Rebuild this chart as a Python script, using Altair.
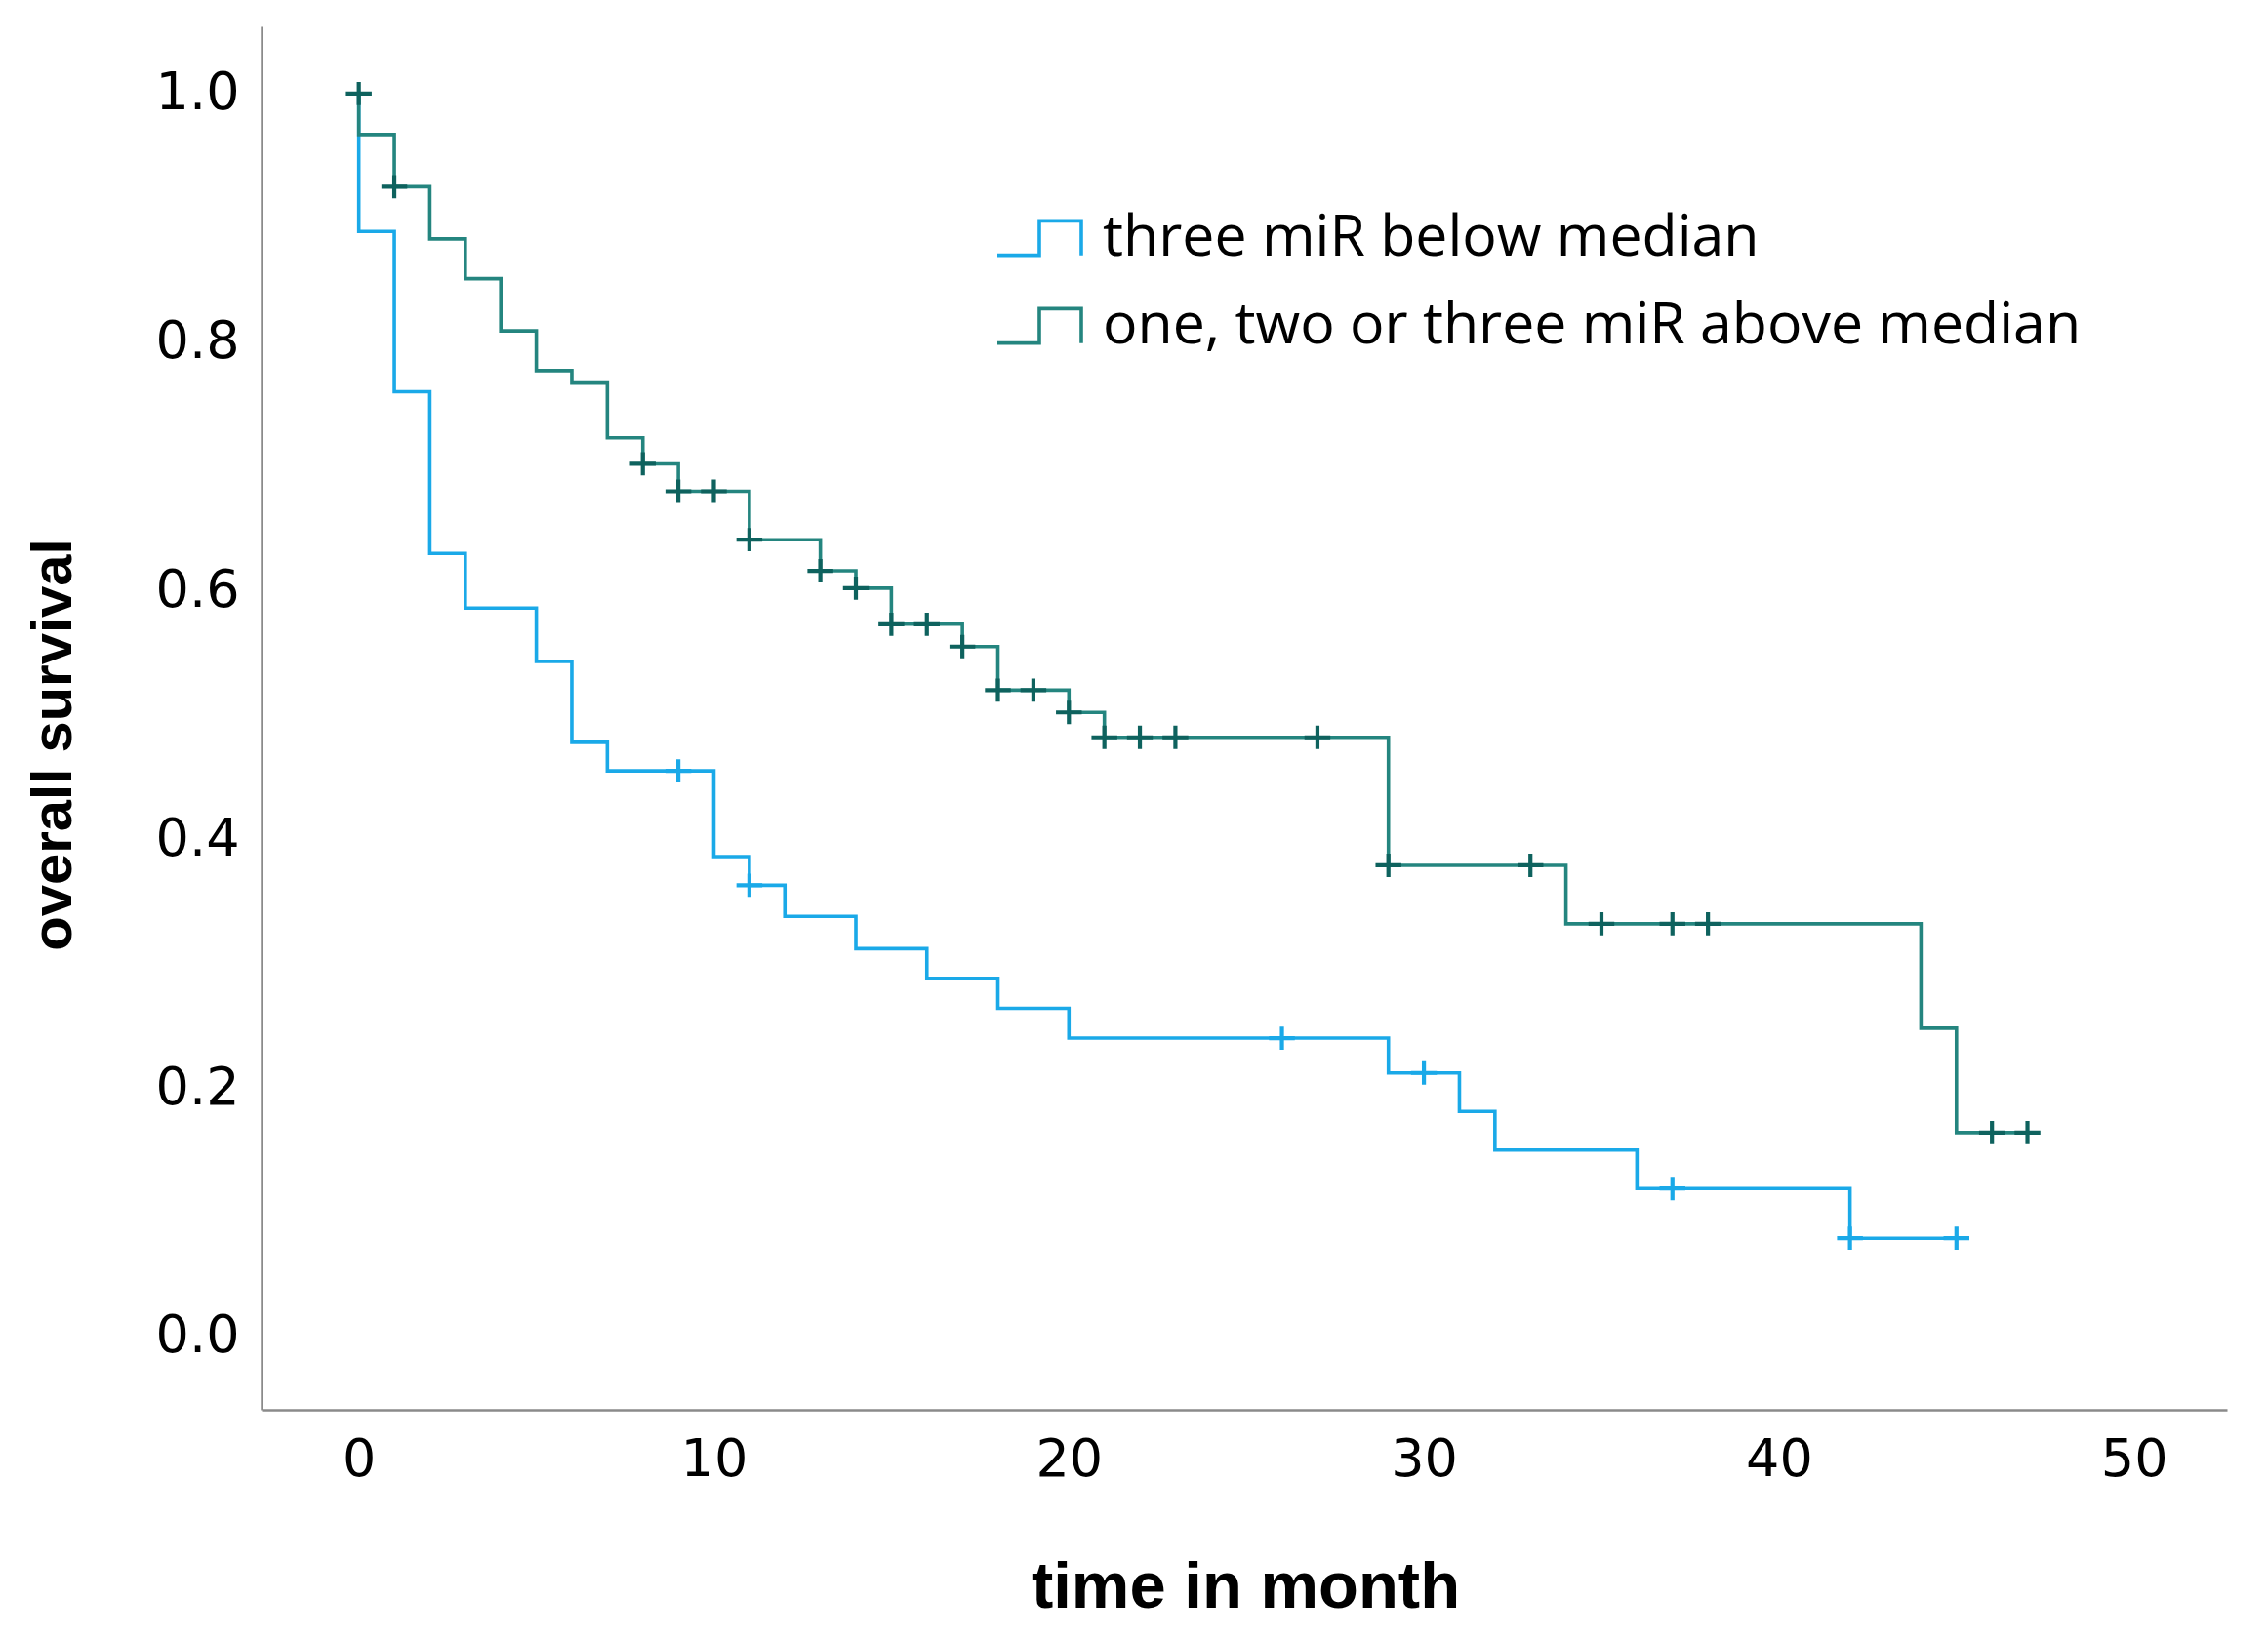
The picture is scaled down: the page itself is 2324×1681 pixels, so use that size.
import altair as alt
import pandas as pd

BLUE_LABEL = "three miR below median"
TEAL_LABEL = "one, two or three miR above median"
BLUE = "#1aa9e8"
TEAL = "#24857f"
TEAL_DARK = "#0e625e"

# Kaplan-Meier steps (time in month, survival after step)
blue_t = [0, 0, 1, 2, 3, 5, 6, 7, 10, 11, 12, 14, 16, 18, 20, 29, 31, 32, 36, 42, 45]
blue_s = [1.0, 0.889, 0.760, 0.630, 0.586, 0.543, 0.478, 0.455, 0.386, 0.363, 0.338,
          0.312, 0.288, 0.264, 0.240, 0.212, 0.181, 0.150, 0.119, 0.079, 0.079]
teal_t = [0, 0, 1, 2, 3, 4, 5, 6, 7, 8, 9, 11, 13, 14, 15, 17, 18, 20, 21, 29, 34, 44, 45, 47]
teal_s = [1.0, 0.967, 0.925, 0.883, 0.851, 0.809, 0.777, 0.767, 0.723, 0.702, 0.680,
          0.641, 0.616, 0.602, 0.573, 0.555, 0.520, 0.502, 0.482, 0.379, 0.332, 0.248,
          0.164, 0.164]

# censored observations
blue_ct = [9, 11, 26, 30, 37, 42, 45]
blue_cs = [0.455, 0.363, 0.240, 0.212, 0.119, 0.079, 0.079]
teal_ct = [0, 1, 8, 9, 10, 11, 13, 14, 15, 16, 17, 18, 19, 20, 21, 22, 23, 27, 29, 33,
           35, 37, 38, 46, 47]
teal_cs = [1.0, 0.925, 0.702, 0.680, 0.680, 0.641, 0.616, 0.602, 0.573, 0.573, 0.555,
           0.520, 0.520, 0.502, 0.482, 0.482, 0.482, 0.482, 0.379, 0.379, 0.332, 0.332,
           0.332, 0.164, 0.164]

x_ticks = [0, 10, 20, 30, 40, 50]
y_ticks = [0.0, 0.2, 0.4, 0.6, 0.8, 1.0]

rows = []
for i, (t, s) in enumerate(zip(blue_t, blue_s)):
    rows.append({"group": BLUE_LABEL, "t": t, "s": s, "idx": i})
for i, (t, s) in enumerate(zip(teal_t, teal_s)):
    rows.append({"group": TEAL_LABEL, "t": t, "s": s, "idx": i})
lines_df = pd.DataFrame(rows)

crows = []
for t, s in zip(blue_ct, blue_cs):
    crows.append({"cgroup": BLUE_LABEL, "t": t, "s": s})
for t, s in zip(teal_ct, teal_cs):
    crows.append({"cgroup": TEAL_LABEL, "t": t, "s": s})
cens_df = pd.DataFrame(crows)

PLUS = "M-1,0L1,0M0,-0.9L0,0.9"
LEG_SYM = "M-1,0.41L0,0.41L0,-0.41L1,-0.41L1,0.41"

x_enc = alt.X("t:Q", scale=alt.Scale(domain=[-2.74, 52.62], nice=False, zero=False),
              axis=alt.Axis(values=x_ticks, title="time in month", format="d",
                            titleX=1008, titleY=182, titleAlign="center",
                            titleBaseline="middle", titleFontSize=67,
                            labelPadding=24))
y_enc = alt.Y("s:Q", scale=alt.Scale(domain=[-0.059, 1.054], nice=False, zero=False),
              axis=alt.Axis(values=y_ticks, title="overall survival", format=".1f",
                            titleX=-213, titleY=736, titleAlign="center",
                            titleBaseline="middle", titleAngle=-90, titleFontSize=58,
                            labelPadding=23))

line = alt.Chart(lines_df).mark_line(interpolate="step-after", strokeWidth=3.6).encode(
    x=x_enc,
    y=y_enc,
    color=alt.Color("group:N",
                    scale=alt.Scale(domain=[BLUE_LABEL, TEAL_LABEL], range=[BLUE, TEAL]),
                    legend=alt.Legend(title=None, orient="none", legendX=752, legendY=172,
                                      symbolType=LEG_SYM, symbolSize=7396,
                                      symbolStrokeWidth=3.6, symbolFillColor="transparent",
                                      labelFont="Open Sans", labelFontSize=59,
                                      labelFontWeight=500,
                                      labelColor="black", labelOffset=20, rowPadding=15,
                                      labelLimit=0, padding=0)),
    order="idx:Q",
)

cens = alt.Chart(cens_df).mark_point(shape=PLUS, size=700, filled=False, strokeWidth=4.2,
                                     opacity=1).encode(
    x="t:Q",
    y="s:Q",
    color=alt.Color("cgroup:N",
                    scale=alt.Scale(domain=[BLUE_LABEL, TEAL_LABEL], range=[BLUE, TEAL_DARK]),
                    legend=None),
)

chart = (
    alt.layer(line, cens)
    .resolve_scale(color="independent")
    .properties(width=2014, height=1418,
                autosize=alt.AutoSizeParams(type="none"),
                padding={"left": 260, "top": 19, "right": 30, "bottom": 220})
    .configure_view(stroke=None)
    .configure_axis(grid=False, ticks=False, tickSize=0, domainColor="#8a8a8a",
                    domainWidth=2.5, labelFont="DejaVu Sans", labelFontSize=54,
                    labelColor="black", titleFont="Liberation Sans",
                    titleFontWeight="bold", titleColor="black")
)

chart.save("out.html", embed_options={"renderer": "svg", "actions": False})
